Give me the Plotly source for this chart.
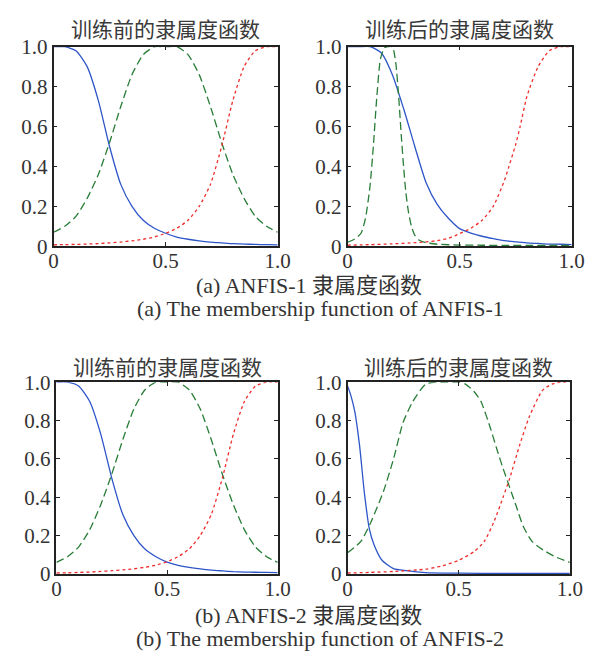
import plotly.graph_objects as go

# ---------------- data ----------------
x_u = [0, 0.05, 0.1, 0.15, 0.2, 0.25, 0.3, 0.35, 0.4, 0.45, 0.5,
       0.55, 0.6, 0.65, 0.7, 0.75, 0.8, 0.85, 0.9, 0.95, 1.0]

# (a) ANFIS-1, before training
a_pre_blue = [1.0, 1.0, 0.98, 0.9, 0.73, 0.5, 0.31, 0.2, 0.13, 0.09, 0.065,
              0.046, 0.035, 0.027, 0.021, 0.017, 0.013, 0.011, 0.009, 0.008, 0.007]
a_pre_green = [0.07, 0.1, 0.15, 0.24, 0.36, 0.52, 0.7, 0.86, 0.96, 1.0, 1.0,
               1.0, 0.96, 0.86, 0.7, 0.52, 0.36, 0.24, 0.15, 0.1, 0.07]
a_pre_red = [0.007, 0.008, 0.009, 0.011, 0.013, 0.017, 0.021, 0.027, 0.035, 0.046, 0.065,
             0.09, 0.13, 0.2, 0.31, 0.5, 0.73, 0.9, 0.98, 1.0, 1.0]

# (a) ANFIS-1, after training
a_post_blue = [1.0, 1.0, 1.0, 0.97, 0.86, 0.69, 0.5, 0.32, 0.21, 0.14, 0.088,
               0.066, 0.05, 0.038, 0.028, 0.022, 0.017, 0.014, 0.011, 0.01, 0.008]
a_post_green_x = [0, 0.03, 0.06, 0.08, 0.1, 0.115, 0.13, 0.147, 0.165, 0.18, 0.2,
                  0.215, 0.228, 0.24, 0.25, 0.26, 0.272, 0.285, 0.3, 0.32, 0.35,
                  0.4, 0.5, 0.6, 0.7, 0.8, 0.9, 1.0]
a_post_green = [0.02, 0.035, 0.065, 0.14, 0.3, 0.5, 0.74, 0.94, 0.995, 1.0, 1.0,
                0.92, 0.75, 0.55, 0.4, 0.27, 0.17, 0.1, 0.055, 0.03, 0.018,
                0.01, 0.006, 0.005, 0.004, 0.004, 0.004, 0.004]
a_post_red_x = [0, 0.1, 0.2, 0.3, 0.35, 0.4, 0.45, 0.5, 0.55, 0.6, 0.65, 0.7,
                0.72, 0.75, 0.77, 0.8, 0.85, 0.9, 0.95, 1.0]
a_post_red = [0.005, 0.008, 0.012, 0.018, 0.022, 0.028, 0.04, 0.063, 0.09, 0.13, 0.2, 0.33,
              0.4, 0.51, 0.6, 0.75, 0.9, 0.98, 1.0, 1.0]

# (b) ANFIS-2, before training
b_pre_blue = [1.0, 1.0, 0.98, 0.9, 0.73, 0.5, 0.31, 0.2, 0.13, 0.09, 0.062,
              0.045, 0.034, 0.026, 0.02, 0.016, 0.012, 0.01, 0.009, 0.008, 0.007]
b_pre_green = [0.06, 0.09, 0.14, 0.23, 0.36, 0.52, 0.7, 0.86, 0.96, 1.0, 1.0,
               1.0, 0.96, 0.86, 0.7, 0.52, 0.36, 0.23, 0.14, 0.09, 0.06]
b_pre_red = [0.005, 0.006, 0.008, 0.01, 0.013, 0.017, 0.021, 0.027, 0.035, 0.046, 0.064,
             0.09, 0.13, 0.2, 0.31, 0.5, 0.73, 0.9, 0.98, 1.0, 1.0]

# (b) ANFIS-2, after training
b_post_blue_x = [0, 0.015, 0.032, 0.054, 0.076, 0.098, 0.12, 0.156, 0.207, 0.265,
                 0.35, 0.5, 0.7, 0.85, 1.0]
b_post_blue = [0.98, 0.93, 0.85, 0.67, 0.42, 0.235, 0.15, 0.07, 0.028, 0.017,
               0.007, 0.004, 0.003, 0.003, 0.003]
b_post_green_x = [0, 0.06, 0.105, 0.163, 0.207, 0.25, 0.294, 0.352, 0.4, 0.45, 0.5,
                  0.53, 0.57, 0.6, 0.643, 0.672, 0.7, 0.73, 0.76, 0.79, 0.83, 0.88, 0.934, 1.0]
b_post_green = [0.11, 0.17, 0.27, 0.435, 0.6, 0.79, 0.9, 0.99, 1.0, 1.0, 1.0,
                0.99, 0.95, 0.9, 0.76, 0.65, 0.55, 0.45, 0.35, 0.25, 0.17, 0.125, 0.09, 0.06]
b_post_red_x = [0, 0.1, 0.207, 0.352, 0.425, 0.498, 0.57, 0.614, 0.658, 0.7, 0.73,
                0.774, 0.818, 0.876, 0.92, 0.96, 1.0]
b_post_red = [0.005, 0.008, 0.013, 0.025, 0.042, 0.07, 0.117, 0.167, 0.27, 0.4, 0.5,
              0.67, 0.82, 0.955, 0.99, 1.0, 1.0]

titles = ["训练前的隶属度函数", "训练后的隶属度函数", "训练前的隶属度函数", "训练后的隶属度函数"]
captions_a = ["(a) ANFIS-1 隶属度函数", "(a) The membership function of ANFIS-1"]
captions_b = ["(b) ANFIS-2 隶属度函数", "(b) The membership function of ANFIS-2"]
x_ticks = [0, 0.5, 1.0]
x_tick_text = ["0", "0.5", "1.0"]
y_ticks = [0, 0.2, 0.4, 0.6, 0.8, 1.0]
y_tick_text = ["0", "0.2", "0.4", "0.6", "0.8", "1.0"]

# ---------------- styles ----------------
BLUE = "rgb(45,85,200)"
GREEN = "rgb(40,125,55)"
RED = "rgb(240,45,45)"
SERIF = "Liberation Serif"
CJK = "Noto Sans CJK SC"

panels = [
    ([(x_u, a_pre_blue, "blue"), (x_u, a_pre_green, "green"), (x_u, a_pre_red, "red")],
     [50 / 608, 281 / 608], [1 - 243 / 665, 1 - 36 / 665], 16.5),
    ([(x_u, a_post_blue, "blue"), (a_post_green_x, a_post_green, "green"), (a_post_red_x, a_post_red, "red")],
     [353 / 608, 584 / 608], [1 - 243 / 665, 1 - 36 / 665], 16.5),
    ([(x_u, b_pre_blue, "blue"), (x_u, b_pre_green, "green"), (x_u, b_pre_red, "red")],
     [53 / 608, 281 / 608], [1 - 583 / 665, 1 - 384 / 665], 367),
    ([(b_post_blue_x, b_post_blue, "blue"), (b_post_green_x, b_post_green, "green"), (b_post_red_x, b_post_red, "red")],
     [353 / 608, 582 / 608], [1 - 583 / 665, 1 - 384 / 665], 367),
]

line_styles = {
    "blue": dict(color=BLUE, width=1.3, dash="solid"),
    "green": dict(color=GREEN, width=1.3, dash="8px,4px"),
    "red": dict(color=RED, width=1.3, dash="3px,3px"),
}

fig = go.Figure()
layout = dict(
    width=608, height=665,
    margin=dict(l=0, r=0, t=0, b=0),
    paper_bgcolor="white", plot_bgcolor="white",
    showlegend=False,
    font=dict(family=SERIF, size=21, color="#333"),
    annotations=[],
)

for i, (series, xd, yd, ty) in enumerate(panels):
    n = "" if i == 0 else str(i + 1)
    for xs, ys, key in series:
        fig.add_trace(go.Scatter(
            x=xs, y=ys, mode="lines", line=dict(**line_styles[key], shape="spline", smoothing=0.6),
            xaxis="x" + n, yaxis="y" + n, hoverinfo="skip"))
    axis_common = dict(
        showgrid=False, zeroline=False, showline=True, linecolor="#222", linewidth=1.5,
        mirror="ticks", ticks="inside", ticklen=4, tickwidth=1, tickcolor="#222",
        tickfont=dict(family=SERIF, size=21, color="#333"), range=[0, 1], fixedrange=True,
    )
    layout["xaxis" + n] = dict(axis_common, domain=xd, anchor="y" + n,
                               tickvals=x_ticks, ticktext=x_tick_text, ticklabelstandoff=-5)
    layout["yaxis" + n] = dict(axis_common, domain=yd, anchor="x" + n,
                               tickvals=y_ticks, ticktext=y_tick_text)
    layout["annotations"].append(dict(
        text=titles[i], x=(xd[0] + xd[1]) / 2, y=1 - ty / 665, xref="paper", yref="paper",
        xanchor="center", yanchor="middle", showarrow=False,
        font=dict(family=CJK, size=21, color="#3a3a3a")))

for caps, y1, y2 in [(captions_a, 284, 308), (captions_b, 626, 650)]:
    layout["annotations"].append(dict(
        text=caps[0], x=313 / 608, y=1 - y1 / 665, xref="paper", yref="paper",
        xanchor="center", yanchor="middle", showarrow=False,
        font=dict(family=SERIF + ", " + CJK, size=22, color="#333")))
    layout["annotations"].append(dict(
        text=caps[1], x=325 / 608, y=1 - y2 / 665, xref="paper", yref="paper",
        xanchor="center", yanchor="middle", showarrow=False,
        font=dict(family=SERIF, size=22, color="#333")))

fig.update_layout(**layout)
fig.write_html("out.html")
